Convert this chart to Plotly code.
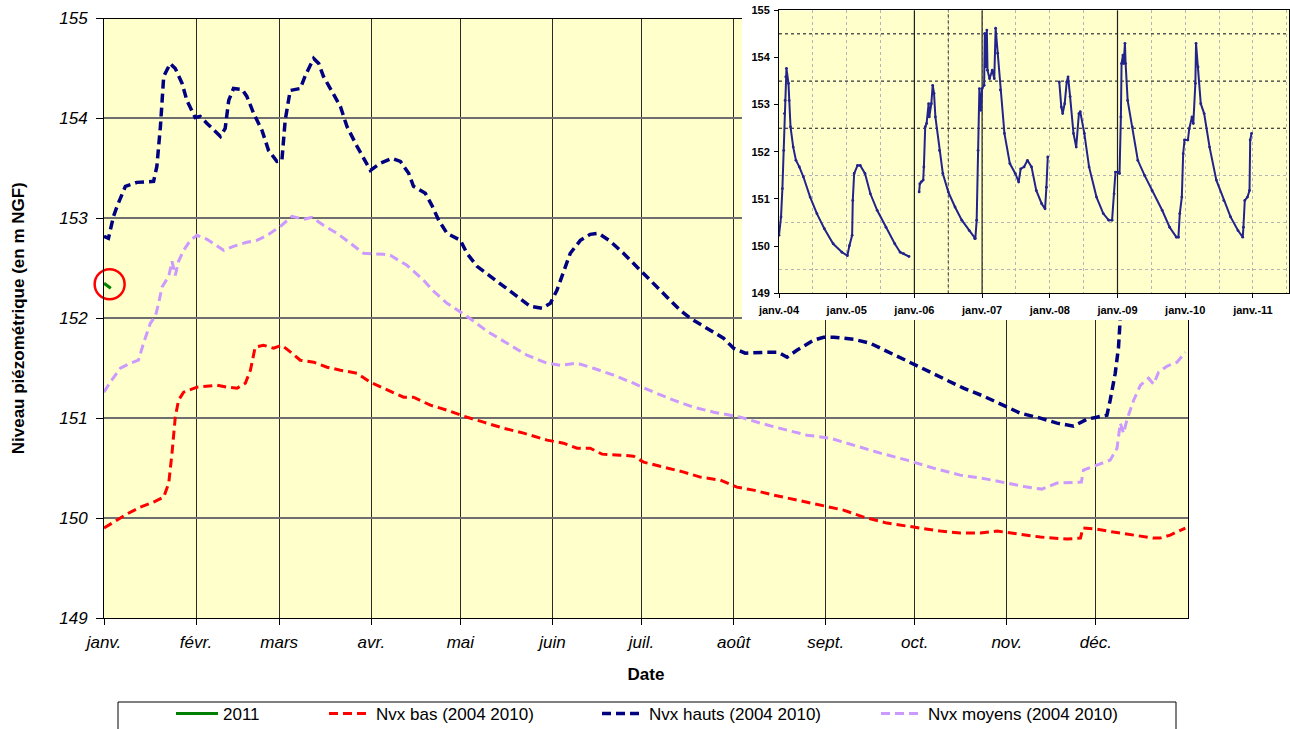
import plotly.graph_objects as go

# ---------------------------------------------------------------- data
MONTH_START_DAYS = [0, 31, 59, 90, 120, 151, 181, 212, 243, 273, 304, 334]
MONTH_LABELS = ['janv.', 'févr.', 'mars', 'avr.', 'mai', 'juin', 'juil.',
                'août', 'sept.', 'oct.', 'nov.', 'déc.']
LEVEL_TICKS = [149, 150, 151, 152, 153, 154, 155]

# 2011 record (day of year, level in m NGF)
DAYS_2011 = [0, 2.3]
LEVEL_2011 = [152.35, 152.30]

# Highest levels 2004-2010
DAYS_HIGH = [0, 1.5, 3.2, 4.4, 7.2, 11.1, 16.7, 17.8, 19.0, 20.1, 22.3, 24.0, 26.3,
             27.9, 30.7, 32.4, 34.7, 37.5, 39.2, 40.8, 42.0, 43.6, 46.5, 48.1, 50.4,
             53.2, 55.4, 58.2, 59.9, 61.0, 62.7, 66.1, 67.8, 70.6, 72.3, 73.9, 77.3,
             79.6, 81.8, 85.2, 89.7, 93.0, 97.0, 99.8, 102.6, 104.2, 108.2, 110.4,
             112.7, 115.5, 120.0, 122.2, 125.6, 130.1, 134.5, 139.1, 143.5, 147.5,
             150.3, 152.5, 154.7, 157.0, 160.4, 163.7, 166.5, 170.5, 174.9, 180.6,
             185.1, 189.6, 194.0, 197.4, 201.9, 205.3, 208.6, 212.0, 215.9, 223.2,
             227.1, 230.0, 233.3, 238.9, 242.3, 245.7, 252.4, 258.0, 263.6, 270.4,
             277.1, 283.8, 289.4, 296.2, 302.9, 308.5, 315.3, 320.9, 326.5, 331.0,
             334.3, 337.7, 338.8, 340.5, 341.6, 342.2, 343.2, 345.0]
LEVEL_HIGH = [152.82, 152.80, 153.02, 153.12, 153.32, 153.36, 153.37, 153.52, 153.92,
              154.42, 154.55, 154.50, 154.35, 154.18, 154.01, 154.02, 153.95, 153.87,
              153.82, 153.90, 154.18, 154.30, 154.29, 154.22, 154.05, 153.88, 153.68,
              153.57, 153.58, 153.98, 154.28, 154.30, 154.43, 154.60, 154.55, 154.42,
              154.25, 154.12, 153.92, 153.72, 153.48, 153.55, 153.60, 153.57, 153.45,
              153.32, 153.25, 153.13, 152.98, 152.85, 152.78, 152.65, 152.52, 152.42,
              152.32, 152.22, 152.12, 152.10, 152.15, 152.28, 152.45, 152.65, 152.78,
              152.84, 152.85, 152.77, 152.65, 152.48, 152.35, 152.22, 152.08, 152.00,
              151.92, 151.85, 151.80, 151.70, 151.65, 151.66, 151.66, 151.61, 151.68,
              151.78, 151.81, 151.81, 151.79, 151.75, 151.67, 151.58, 151.48, 151.38,
              151.30, 151.22, 151.13, 151.05, 151.00, 150.95, 150.92, 150.99, 151.01,
              151.03, 151.18, 151.45, 151.71, 151.96, 152.50, 153.10]

# Mean levels 2004-2010
DAYS_MEAN = [0, 2.1, 5.5, 8.9, 11.6, 13.3, 15.6, 17.3, 18.4, 19.5, 21.8, 22.9, 24.0,
             25.1, 26.8, 29.1, 31.3, 34.7, 40.3, 43.6, 48.1, 51.5, 54.9, 59.4, 63.3,
             67.2, 70.0, 73.9, 78.5, 82.9, 87.4, 94.1, 96.4, 102.0, 107.6, 111.0,
             115.5, 122.2, 129.0, 135.7, 142.4, 149.2, 153.6, 159.3, 164.8, 171.6,
             178.3, 185.1, 191.8, 198.5, 205.3, 214.3, 221.0, 230.0, 236.7, 244.5,
             252.4, 261.4, 270.4, 279.3, 288.3, 297.3, 304.0, 310.8, 315.8, 320.9,
             329.1, 329.8, 334.3, 338.8, 341.1, 342.2, 343.3, 344.4, 346.7, 349.0,
             351.7, 353.4, 355.1, 357.9, 361.3, 364.1]
LEVEL_MEAN = [151.26, 151.36, 151.50, 151.55, 151.58, 151.75, 151.95, 152.02, 152.15,
              152.31, 152.42, 152.57, 152.43, 152.57, 152.68, 152.78, 152.83, 152.79,
              152.68, 152.72, 152.76, 152.78, 152.83, 152.92, 153.02, 152.99, 153.01,
              152.93, 152.85, 152.75, 152.65, 152.64, 152.63, 152.53, 152.38, 152.27,
              152.15, 152.02, 151.87, 151.75, 151.63, 151.55, 151.53, 151.55, 151.50,
              151.43, 151.35, 151.26, 151.18, 151.11, 151.06, 151.01, 150.95, 150.88,
              150.83, 150.80, 150.73, 150.65, 150.58, 150.50, 150.43, 150.39, 150.35,
              150.31, 150.29, 150.35, 150.36, 150.48, 150.53, 150.58, 150.70, 150.95,
              150.85, 150.98, 151.18, 151.33, 151.40, 151.34, 151.46, 151.52, 151.56,
              151.66]

# Lowest levels 2004-2010
DAYS_LOW = [0, 3.2, 7.7, 12.2, 16.7, 20.1, 21.8, 22.9, 24.0, 25.1, 26.8, 31.3, 38.0,
            41.4, 44.8, 47.6, 49.3, 50.9, 53.7, 57.1, 59.9, 63.3, 66.1, 70.6, 75.1,
            79.6, 85.2, 89.7, 94.1, 97.5, 100.9, 104.2, 109.9, 115.5, 121.1, 127.8,
            134.5, 141.3, 149.2, 154.7, 159.3, 163.7, 167.7, 173.8, 178.3, 181.7,
            188.4, 195.2, 200.8, 207.5, 213.1, 218.7, 225.5, 233.3, 241.2, 249.0,
            255.8, 263.6, 272.6, 281.6, 288.3, 295.0, 300.7, 308.5, 315.3, 324.2,
            328.8, 329.6, 334.3, 339.9, 346.7, 353.4, 355.6, 359.0, 364.1]
LEVEL_LOW = [149.90, 149.96, 150.04, 150.11, 150.16, 150.21, 150.35, 150.65, 151.01,
             151.18, 151.26, 151.31, 151.33, 151.31, 151.30, 151.35, 151.48, 151.71,
             151.73, 151.70, 151.73, 151.65, 151.58, 151.56, 151.51, 151.48, 151.45,
             151.36, 151.30, 151.26, 151.21, 151.21, 151.13, 151.08, 151.02, 150.96,
             150.90, 150.85, 150.78, 150.75, 150.70, 150.70, 150.64, 150.63, 150.62,
             150.56, 150.51, 150.46, 150.41, 150.38, 150.31, 150.28, 150.23, 150.18,
             150.13, 150.08, 150.01, 149.95, 149.91, 149.87, 149.85, 149.85, 149.87,
             149.84, 149.81, 149.79, 149.80, 149.90, 149.89, 149.86, 149.83, 149.80,
             149.80, 149.83, 149.90]

# Highlighted point of the 2011 record
MARK_DAY = [1.9]
MARK_LEVEL = [152.34]

# Full record 2004-2011 (decimal year, level); None marks a gap in the record
INSET_YEAR = [
    2004.00, 2004.03, 2004.05, 2004.07, 2004.08, 2004.09, 2004.10, 2004.11, 2004.14,
    2004.15, 2004.17, 2004.21, 2004.25, 2004.30, 2004.36, 2004.46, 2004.56, 2004.67,
    2004.80, 2004.93, 2005.01, 2005.04, 2005.08, 2005.09, 2005.11, 2005.16, 2005.20,
    2005.27, 2005.35, 2005.45, 2005.58, 2005.71, 2005.79, 2005.84, 2005.92, None,
    2006.07, 2006.08, 2006.10, 2006.13, 2006.14, 2006.16, 2006.18, 2006.21, 2006.22,
    2006.25, 2006.27, 2006.29, 2006.31, 2006.37, 2006.42, 2006.50, 2006.60, 2006.70,
    2006.81, 2006.89, 2006.90, 2006.92, 2006.94, 2006.96, 2006.98, 2007.00, 2007.03,
    2007.04, 2007.06, 2007.07, 2007.08, 2007.11, 2007.15, 2007.18, 2007.20, 2007.23,
    2007.27, 2007.33, 2007.41, 2007.49, 2007.54, 2007.57, 2007.62, 2007.67, 2007.73,
    2007.80, 2007.88, 2007.93, 2007.95, 2007.97, None,
    2008.14, 2008.17, 2008.19, 2008.22, 2008.25, 2008.27, 2008.30, 2008.35, 2008.39,
    2008.43, 2008.45, 2008.51, 2008.58, 2008.69, 2008.79, 2008.87, 2008.92, 2008.95,
    2008.97, 2009.01, 2009.03, 2009.05, 2009.06, 2009.08, 2009.09, 2009.11, 2009.12,
    2009.15, 2009.22, 2009.30, 2009.40, 2009.51, 2009.66, 2009.77, 2009.87, 2009.90,
    2009.92, 2009.95, 2009.97, 2009.99, 2010.04, 2010.06, 2010.10, 2010.12, 2010.15,
    2010.16, 2010.19, 2010.23, 2010.28, 2010.36, 2010.46, 2010.57, 2010.67, 2010.78,
    2010.85, 2010.86, 2010.88, 2010.92, 2010.95, 2010.96, 2010.98]
INSET_LEVEL = [
    150.23, 150.62, 151.22, 152.03, 152.81, 153.09, 153.59, 153.77, 153.45,
    153.09, 152.53, 152.10, 151.82, 151.68, 151.47, 151.04, 150.69, 150.37,
    150.05, 149.87, 149.80, 150.01, 150.23, 150.97, 151.54, 151.71, 151.71,
    151.54, 151.11, 150.76, 150.40, 150.05, 149.87, 149.84, 149.78, None,
    151.15, 151.32, 151.36, 151.40, 151.68, 152.53, 152.60, 153.02, 152.74,
    153.02, 153.41, 153.24, 152.74, 152.03, 151.54, 151.15, 150.83, 150.55,
    150.33, 150.16, 150.16, 150.55, 152.03, 153.34, 152.88, 153.34, 153.41,
    154.51, 153.80, 154.58, 153.73, 153.55, 153.73, 153.55, 154.62, 154.09,
    153.31, 152.39, 151.75, 151.54, 151.36, 151.64, 151.68, 151.82, 151.68,
    151.18, 150.90, 150.79, 151.25, 151.89, None,
    153.48, 152.95, 152.81, 153.02, 153.48, 153.59, 153.17, 152.39, 152.10,
    152.81, 152.85, 152.39, 151.68, 151.04, 150.69, 150.55, 150.55, 151.11,
    151.57, 151.57, 151.54, 152.74, 153.87, 154.05, 153.87, 154.30, 153.87,
    153.09, 152.53, 151.82, 151.50, 151.18, 150.76, 150.40, 150.19, 150.19,
    150.69, 151.04, 151.96, 152.25, 152.25, 152.49, 152.74, 152.60, 153.45,
    154.30, 153.80, 153.02, 152.81, 152.10, 151.40, 150.97, 150.62, 150.33,
    150.19, 150.40, 150.97, 151.04, 151.18, 152.25, 152.39]

INSET_YEAR_TICKS = [2004, 2005, 2006, 2007, 2008, 2009, 2010, 2011]
INSET_YEAR_LABELS = ['janv.-04', 'janv.-05', 'janv.-06', 'janv.-07',
                     'janv.-08', 'janv.-09', 'janv.-10', 'janv.-11']
INSET_HALF_YEARS = [2004.5, 2005.5, 2006.5, 2007.5, 2008.5, 2009.5, 2010.5, 2011.5]
INSET_HALF_LEVELS = [149.5, 150.5, 151.5, 152.5, 153.5, 154.5]
INSET_DARK_LEVELS = [152.5, 153.5, 154.5]
INSET_DARK_YEARS = [2006, 2007, 2009]
INSET_DARK_DOTTED_YEARS = [2006.5]

# ---------------------------------------------------------------- geometry
W, H = 1290, 729
ML, MB = 104, 111
PW, PH = W - ML, H - MB


def px_x(px):
    return (px - ML) / PW


def px_y(py):
    return (PH - py) / PH


FONT = 'Liberation Sans, Arial, sans-serif'
YELLOW = '#FFFFCC'
INSET_X_MAX = 2004 + (1289 - 779) / 67.7

fig = go.Figure()

# ---------------------------------------------------------------- main chart
fig.add_trace(go.Scatter(
    x=DAYS_2011, y=LEVEL_2011, name='2011', mode='lines',
    line=dict(color='#008000', width=3), legend='legend'))
fig.add_trace(go.Scatter(
    x=DAYS_LOW, y=LEVEL_LOW, name='Nvx bas (2004 2010)', mode='lines',
    line=dict(color='#FF0000', width=3, dash='9px,5px'), legend='legend2'))
fig.add_trace(go.Scatter(
    x=DAYS_HIGH, y=LEVEL_HIGH, name='Nvx hauts (2004 2010)', mode='lines',
    line=dict(color='#000080', width=3.5, dash='9px,5px'), legend='legend3'))
fig.add_trace(go.Scatter(
    x=DAYS_MEAN, y=LEVEL_MEAN, name='Nvx moyens (2004 2010)', mode='lines',
    line=dict(color='#CC99FF', width=3, dash='9px,5px'), legend='legend4'))
fig.add_trace(go.Scatter(
    x=MARK_DAY, y=MARK_LEVEL, mode='markers', showlegend=False, cliponaxis=False,
    marker=dict(symbol='circle-open', size=30, color='#FF0000',
                line=dict(color='#FF0000', width=2.5)),
    hoverinfo='skip'))

# white panel holding the inset chart
fig.add_trace(go.Scatter(x=[None], y=[None], xaxis='x2', yaxis='y2',
                         showlegend=False, hoverinfo='skip'))

# ---------------------------------------------------------------- inset chart
fig.add_trace(go.Scatter(
    x=INSET_YEAR, y=INSET_LEVEL, xaxis='x3', yaxis='y3', mode='lines+markers',
    line=dict(color='#23238C', width=2), marker=dict(size=2.8, color='#23238C'),
    showlegend=False, connectgaps=False, hoverinfo='skip'))

shapes = [
    dict(type='rect', xref='x', yref='y', x0=0, x1=365, y0=149, y1=155,
         fillcolor=YELLOW, line=dict(width=0), layer='below'),
    dict(type='rect', xref='x3', yref='y3', x0=2004, x1=INSET_X_MAX, y0=149, y1=155,
         fillcolor=YELLOW, line=dict(width=0), layer='below'),
    # legend frame
    dict(type='rect', xref='paper', yref='paper', x0=px_x(118), x1=px_x(1176),
         y0=px_y(702), y1=px_y(760), line=dict(color='black', width=1),
         fillcolor='white', layer='below'),
]
for lv in INSET_DARK_LEVELS:
    shapes.append(dict(type='line', xref='x3', yref='y3', x0=2004, x1=INSET_X_MAX,
                       y0=lv, y1=lv, line=dict(color='#202020', width=1, dash='dot'),
                       layer='between'))
for yr in INSET_DARK_YEARS:
    shapes.append(dict(type='line', xref='x3', yref='y3', x0=yr, x1=yr, y0=149, y1=155,
                       line=dict(color='#202020', width=1.2), layer='between'))
for yr in INSET_DARK_DOTTED_YEARS:
    shapes.append(dict(type='line', xref='x3', yref='y3', x0=yr, x1=yr, y0=149, y1=155,
                       line=dict(color='#303030', width=1, dash='dot'), layer='between'))

legend_common = dict(orientation='h', yanchor='middle', y=px_y(714), xanchor='left',
                     bgcolor='rgba(0,0,0,0)', borderwidth=0, itemwidth=42,
                     font=dict(family=FONT, size=17, color='black'))

fig.update_layout(
    width=W, height=H,
    margin=dict(l=ML, r=0, t=0, b=MB, pad=0, autoexpand=False),
    paper_bgcolor='white', plot_bgcolor='white',
    font=dict(family=FONT, color='black'),
    shapes=shapes,
    legend=dict(legend_common, x=px_x(224 - 53)),
    legend2=dict(legend_common, x=px_x(377 - 53)),
    legend3=dict(legend_common, x=px_x(650 - 53)),
    legend4=dict(legend_common, x=px_x(929 - 53)),
    xaxis=dict(
        domain=[0, px_x(1188)], range=[0, 365],
        tickmode='array', tickvals=MONTH_START_DAYS, ticktext=MONTH_LABELS,
        ticks='outside', ticklen=6, tickcolor='black', ticklabelstandoff=3,
        tickfont=dict(family=FONT, size=17, style='italic', color='black'),
        showgrid=True, gridcolor='#2a2a2a', gridwidth=1.2, zeroline=False,
        showline=True, linecolor='black', linewidth=1, mirror=True,
        title=dict(text='Date', standoff=16,
                   font=dict(family=FONT, size=17, weight='bold', color='black')),
    ),
    yaxis=dict(
        domain=[0, px_y(18.5)], range=[149, 155],
        tickmode='array', tickvals=LEVEL_TICKS,
        ticks='outside', ticklen=7, tickcolor='black', ticklabelstandoff=5,
        tickfont=dict(family=FONT, size=17, style='italic', color='black'),
        showgrid=True, gridcolor='#6e6e6e', gridwidth=1.5, zeroline=False,
        showline=True, linecolor='black', linewidth=1, mirror=True,
        title=dict(text='Niveau piézométrique (en m NGF)', standoff=30,
                   font=dict(family=FONT, size=17, weight='bold', color='black')),
    ),
    xaxis2=dict(domain=[px_x(742), 1], range=[0, 1], visible=False, anchor='y2'),
    yaxis2=dict(domain=[px_y(320), 1], range=[0, 1], visible=False, anchor='x2'),
    xaxis3=dict(
        domain=[px_x(779), px_x(1289)], range=[2004, INSET_X_MAX], anchor='y3',
        tickmode='array', tickvals=INSET_YEAR_TICKS, ticktext=INSET_YEAR_LABELS,
        ticks='outside', ticklen=4, tickcolor='black', ticklabelstandoff=2,
        tickfont=dict(family=FONT, size=11, weight='bold', color='black'),
        showgrid=True, gridcolor='#b4b4b4', gridwidth=1, griddash='dot',
        minor=dict(tickvals=INSET_HALF_YEARS, showgrid=True, gridcolor='#b4b4b4',
                   gridwidth=1, griddash='dot', ticks=''),
        zeroline=False, showline=True, linecolor='black', linewidth=1, mirror=True,
    ),
    yaxis3=dict(
        domain=[px_y(293.3), px_y(10.3)], range=[149, 155], anchor='x3',
        tickmode='array', tickvals=LEVEL_TICKS,
        ticks='outside', ticklen=4, tickcolor='black', ticklabelstandoff=2,
        tickfont=dict(family=FONT, size=11, weight='bold', color='black'),
        showgrid=False,
        minor=dict(tickvals=INSET_HALF_LEVELS, showgrid=True, gridcolor='#b4b4b4',
                   gridwidth=1, griddash='dot', ticks=''),
        zeroline=False, showline=True, linecolor='black', linewidth=1, mirror=True,
    ),
)

fig.write_html('out.html')
